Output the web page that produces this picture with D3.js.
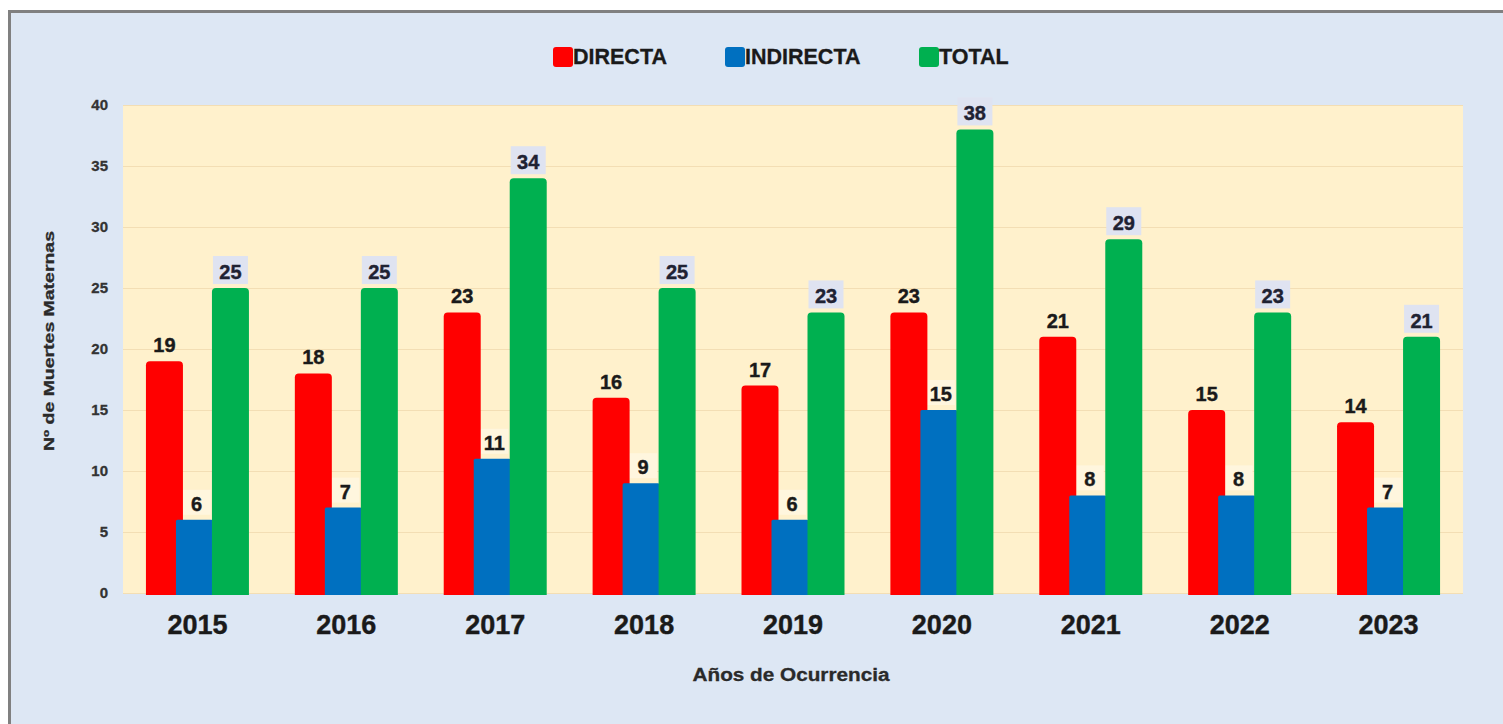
<!DOCTYPE html>
<html>
<head>
<meta charset="utf-8">
<script src="https://cdn.jsdelivr.net/npm/d3@7"></script>
<style>
  html, body { margin: 0; padding: 0; background: #ffffff; }
  svg { display: block; }
  text { font-family: "Liberation Sans", Arial, sans-serif; font-weight: bold; }
</style>
</head>
<body>
<svg id="chart" width="1503" height="724"></svg>
<script>
// Muertes maternas por año de ocurrencia
const years = ["2015", "2016", "2017", "2018", "2019", "2020", "2021", "2022", "2023"];
const directa = [19, 18, 23, 16, 17, 23, 21, 15, 14];
const indirecta = [6, 7, 11, 9, 6, 15, 8, 8, 7];
const total = [25, 25, 34, 25, 23, 38, 29, 23, 21];
const seriesNames = ["DIRECTA", "INDIRECTA", "TOTAL"];
const yTicks = [0, 5, 10, 15, 20, 25, 30, 35, 40];
const yTitle = "Nº de Muertes Maternas";
const xTitle = "Años de Ocurrencia";

const W = 1503, H = 724;
const svg = d3.select("#chart");

const colors = ["#ff0000", "#0070c0", "#00b050"];
const seriesValues = [directa, indirecta, total];

// outer chart frame (continues past the right and bottom edges)
svg.append("rect")
  .attr("x", 9.5).attr("y", 11.5)
  .attr("width", W + 20).attr("height", H + 20)
  .attr("fill", "#dde7f4")
  .attr("stroke", "#808080").attr("stroke-width", 3);

const plot = { left: 123, right: 1463, top: 105, bottom: 593 };

const x = d3.scaleBand().domain(years).range([plot.left, plot.right]).padding(0);
const y = d3.scaleLinear().domain([0, 40]).range([plot.bottom, plot.top]);

// plot background
svg.append("rect")
  .attr("x", plot.left).attr("y", plot.top)
  .attr("width", plot.right - plot.left).attr("height", plot.bottom - plot.top)
  .attr("fill", "#fff1cc");

// horizontal gridlines and value ticks
const yAxis = d3.axisLeft(y).tickValues(yTicks).tickSize(-(plot.right - plot.left)).tickPadding(15);
const gY = svg.append("g").attr("transform", `translate(${plot.left},0)`).call(yAxis);
gY.select(".domain").remove();
gY.selectAll(".tick line").attr("stroke", "#f3deb4").attr("stroke-width", 1.2);
gY.selectAll(".tick text")
  .attr("fill", "#333").attr("stroke", "#333").attr("stroke-width", 0.3)
  .style("font-size", "15px")
  .style("font-family", "'Liberation Sans', Arial, sans-serif").style("font-weight", "bold");

// year labels
const xAxis = d3.axisBottom(x).tickSize(0).tickPadding(22);
const gX = svg.append("g").attr("transform", `translate(0,${plot.bottom})`).call(xAxis);
gX.select(".domain").remove();
gX.selectAll(".tick text")
  .attr("fill", "#1a1a1a").attr("stroke", "#1a1a1a").attr("stroke-width", 0.4)
  .style("font-size", "27px")
  .style("font-family", "'Liberation Sans', Arial, sans-serif").style("font-weight", "bold");

// bar geometry within each year group
const barW = 37;
const offsets = [-33, -3, 33];
const radii = [4, 1.5, 4];

function topRounded(x0, y0, w, h, r) {
  r = Math.min(r, h, w / 2);
  const p = d3.path();
  p.moveTo(x0, y0 + h);
  p.lineTo(x0, y0 + r);
  p.quadraticCurveTo(x0, y0, x0 + r, y0);
  p.lineTo(x0 + w - r, y0);
  p.quadraticCurveTo(x0 + w, y0, x0 + w, y0 + r);
  p.lineTo(x0 + w, y0 + h);
  p.closePath();
  return p.toString();
}

const gUnder = svg.append("g");   // soft label patches that sit behind the bars
const gBars = svg.append("g");
const gLabels = svg.append("g");

seriesValues.forEach((vals, s) => {
  const data = years.map((yr, i) => ({ yr, v: vals[i] }));
  gBars.selectAll(null).data(data).enter().append("path")
    .attr("d", d => {
      const cx = x(d.yr) + x.bandwidth() / 2 + offsets[s];
      return topRounded(cx - barW / 2, y(d.v), barW, y(0) - y(d.v) + 2, radii[s]);
    })
    .attr("fill", colors[s]);

  data.forEach(d => {
    const cx = x(d.yr) + x.bandwidth() / 2 + offsets[s];
    const ty = y(d.v) - 9;
    if (s === 2) {
      gLabels.append("rect")
        .attr("x", cx - 17.5).attr("y", ty - 23)
        .attr("width", 35).attr("height", 28)
        .attr("fill", "#dfe3f1");
    } else if (s === 1) {
      gUnder.append("rect")
        .attr("x", cx - 16).attr("y", ty - 21)
        .attr("width", 32).attr("height", 25)
        .attr("fill", "#fff6de");
    }
    gLabels.append("text")
      .attr("x", cx + (s === 1 ? 2 : 0)).attr("y", ty)
      .attr("text-anchor", "middle")
      .attr("fill", s === 2 ? "#1f2233" : "#1a1a1a")
      .attr("stroke", s === 2 ? "#1f2233" : "#1a1a1a").attr("stroke-width", 0.4)
      .style("font-size", "20px")
      .text(d.v);
  });
});

// legend
const legendX = [553, 725, 919];
const legend = svg.append("g");
seriesNames.forEach((name, s) => {
  legend.append("rect")
    .attr("x", legendX[s]).attr("y", 47)
    .attr("width", 20).attr("height", 20).attr("rx", 3)
    .attr("fill", colors[s]);
  legend.append("text")
    .attr("x", legendX[s] + 20).attr("y", 64)
    .attr("fill", "#1a1a1a").attr("stroke", "#1a1a1a").attr("stroke-width", 0.3)
    .style("font-size", "21.5px")
    .text(name);
});

// axis titles
svg.append("text")
  .attr("transform", `translate(54,341) rotate(-90)`)
  .attr("text-anchor", "middle")
  .attr("fill", "#2a2a2a").attr("stroke", "#2a2a2a").attr("stroke-width", 0.3)
  .style("font-size", "15px")
  .attr("textLength", 220).attr("lengthAdjust", "spacingAndGlyphs")
  .text(yTitle);

svg.append("text")
  .attr("x", (plot.left + plot.right) / 2 - 2).attr("y", 681)
  .attr("text-anchor", "middle")
  .attr("fill", "#2a2a2a").attr("stroke", "#2a2a2a").attr("stroke-width", 0.3)
  .style("font-size", "18px")
  .attr("textLength", 197).attr("lengthAdjust", "spacingAndGlyphs")
  .text(xTitle);
</script>
</body>
</html>
